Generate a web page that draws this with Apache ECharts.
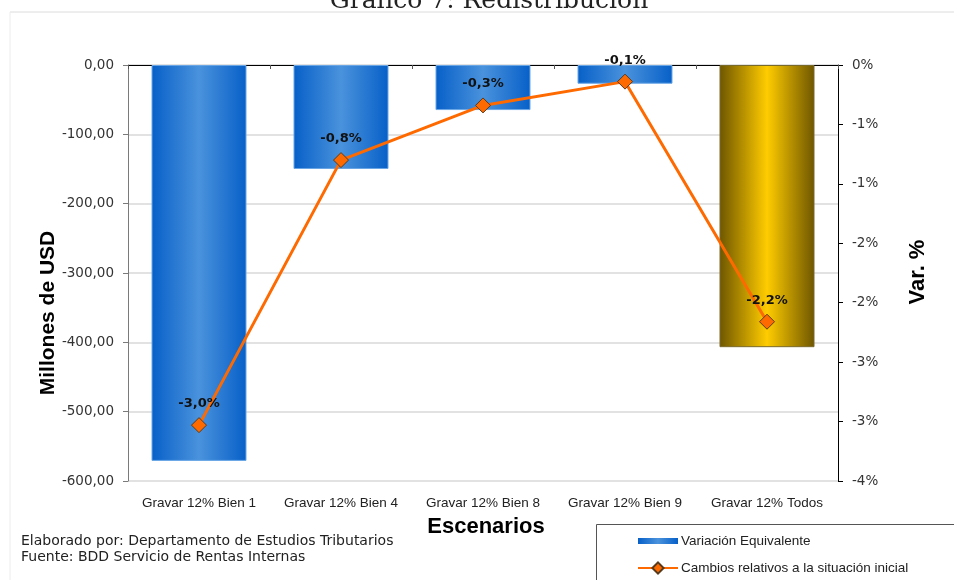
<!DOCTYPE html>
<html>
<head>
<meta charset="utf-8">
<script src="https://cdn.jsdelivr.net/npm/echarts@6/dist/echarts.min.js"></script>
<style>
  html, body { margin: 0; padding: 0; background: #fff; }
  #chart { width: 954px; height: 580px; }
</style>
</head>
<body>
<div id="chart"></div>
<script>
// Scenarios and results
const categories = ['Gravar 12% Bien 1', 'Gravar 12% Bien 4', 'Gravar 12% Bien 8', 'Gravar 12% Bien 9', 'Gravar 12% Todos'];
const variacionEquivalente = [-571, -150, -65, -27, -407];      // millones de USD
const cambiosRelativos = [-3.03, -0.8, -0.34, -0.14, -2.16];    // %
const leftTicks = { min: -600, max: 0, interval: 100 };
const rightTicks = { min: -3.5, max: 0, interval: 0.5 };

const FONT = '"Liberation Sans", Arial, sans-serif';
const WIDE = '"DejaVu Sans", Verdana, sans-serif';

function hGrad(edge, mid) {
  return new echarts.graphic.LinearGradient(0, 0, 1, 0, [
    { offset: 0, color: edge },
    { offset: 0.5, color: mid },
    { offset: 1, color: edge }
  ]);
}
const blueFill = hGrad('#0760c8', '#4a92dc');
const goldFill = hGrad('#6e5600', '#ffcc00');

function fmtMoney(v) {
  return v.toFixed(2).replace('.', ',');
}
function fmtPctAxis(v) {
  const r = Math.sign(v) * Math.round(Math.abs(v) + 1e-9);
  return (r === 0 ? 0 : r) + '%';
}

const chart = echarts.init(document.getElementById('chart'), null, { renderer: 'canvas' });

chart.setOption({
  animation: false,
  backgroundColor: '#fff',
  textStyle: { fontFamily: FONT },
  grid: { left: 128, right: 116, top: 65, bottom: 99, containLabel: false },
  xAxis: [
    {
      type: 'category',
      data: categories,
      position: 'bottom',
      axisLine: { show: false, onZero: false },
      axisTick: { show: false },
      axisLabel: { interval: 0, color: '#222', fontSize: 13.5, margin: 15, fontFamily: FONT }
    },
    {
      type: 'category',
      data: categories,
      position: 'top',
      axisLine: { show: true, onZero: false, lineStyle: { color: '#000', width: 1 } },
      axisTick: { show: true, inside: true, length: 4, lineStyle: { color: '#555' } },
      axisLabel: { show: false }
    }
  ],
  yAxis: [
    {
      type: 'value',
      min: leftTicks.min, max: leftTicks.max, interval: leftTicks.interval,
      axisLine: { show: true, lineStyle: { color: '#7a7a7a', width: 1 } },
      axisTick: { show: true, length: 5, lineStyle: { color: '#7a7a7a' } },
      axisLabel: { color: '#333', fontSize: 13.5, margin: 14, formatter: fmtMoney, fontFamily: WIDE },
      splitLine: { show: true, lineStyle: { color: '#d9d9d9', width: 1.5 } }
    },
    {
      type: 'value',
      position: 'right',
      min: rightTicks.min, max: rightTicks.max, interval: rightTicks.interval,
      axisLine: { show: true, lineStyle: { color: '#000', width: 1 } },
      axisTick: { show: true, length: 5, lineStyle: { color: '#000' } },
      axisLabel: { color: '#333', fontSize: 13.5, margin: 14, formatter: fmtPctAxis, fontFamily: WIDE },
      splitLine: { show: false }
    }
  ],
  legend: {
    orient: 'vertical',
    left: 637,
    top: 534,
    padding: 0,
    itemWidth: 40,
    itemHeight: 14,
    itemGap: 13,
    textStyle: { color: '#222', fontSize: 13.5, fontFamily: FONT, padding: [0, 0, 0, -2] },
    data: [
      { name: 'Variación Equivalente', icon: 'path://M0,0H40V6H0Z', itemStyle: { color: blueFill } },
      { name: 'Cambios relativos a la situación inicial' }
    ]
  },
  series: [
    {
      name: 'Variación Equivalente',
      type: 'bar',
      xAxisIndex: 0,
      yAxisIndex: 0,
      barWidth: 95,
      itemStyle: { color: blueFill },
      data: variacionEquivalente.map((v, i) => ({
        value: v,
        itemStyle: i === categories.length - 1
          ? { color: goldFill, borderColor: '#7a6a2a', borderWidth: 1 }
          : { color: blueFill, borderColor: '#6aa6e6', borderWidth: 1 }
      }))
    },
    {
      name: 'Cambios relativos a la situación inicial',
      type: 'line',
      xAxisIndex: 0,
      yAxisIndex: 1,
      data: cambiosRelativos,
      symbol: 'diamond',
      symbolSize: 15,
      lineStyle: { color: '#ff6a00', width: 3 },
      itemStyle: { color: '#ff6a00', borderColor: '#5a3a1a', borderWidth: 1 },
      label: {
        show: true,
        position: 'top',
        distance: 7,
        color: '#111',
        fontSize: 13,
        fontWeight: 'bold',
        fontFamily: WIDE,
        formatter: p => p.value.toFixed(1).replace('.', ',') + '%'
      },
      z: 5
    }
  ],
  graphic: [
    // page frame
    { type: 'line', shape: { x1: 10, y1: 12, x2: 954, y2: 12 }, style: { stroke: '#dcdcdc', lineWidth: 1 }, silent: true },
    { type: 'line', shape: { x1: 10, y1: 12, x2: 10, y2: 580 }, style: { stroke: '#ececec', lineWidth: 1 }, silent: true },
    // heading
    {
      type: 'text', x: 489, y: 14,
      style: { text: 'Gráfico 7: Redistribución', font: '25px "DejaVu Serif", "Liberation Serif", serif', fill: '#222', align: 'center', verticalAlign: 'bottom' }
    },
    // axis titles
    {
      type: 'text', x: 48, y: 313, rotation: Math.PI / 2,
      style: { text: 'Millones de USD', font: 'bold 21px ' + FONT, fill: '#000', align: 'center', verticalAlign: 'middle' }
    },
    {
      type: 'text', x: 918, y: 272, rotation: Math.PI / 2,
      style: { text: 'Var. %', font: 'bold 22px ' + FONT, fill: '#000', align: 'center', verticalAlign: 'middle' }
    },
    {
      type: 'text', x: 486, y: 527,
      style: { text: 'Escenarios', font: 'bold 22px ' + FONT, fill: '#000', align: 'center', verticalAlign: 'middle' }
    },
    // source notes
    {
      type: 'text', x: 21, y: 533,
      style: { text: 'Elaborado por: Departamento de Estudios Tributarios\nFuente: BDD Servicio de Rentas Internas', font: '14px ' + WIDE, fill: '#222', lineHeight: 16 }
    },
    // legend frame
    {
      type: 'rect', shape: { x: 596.5, y: 524.5, width: 420, height: 100 },
      style: { fill: 'none', stroke: '#555', lineWidth: 1 }, silent: true, z: -1
    }
  ]
});
</script>
</body>
</html>
